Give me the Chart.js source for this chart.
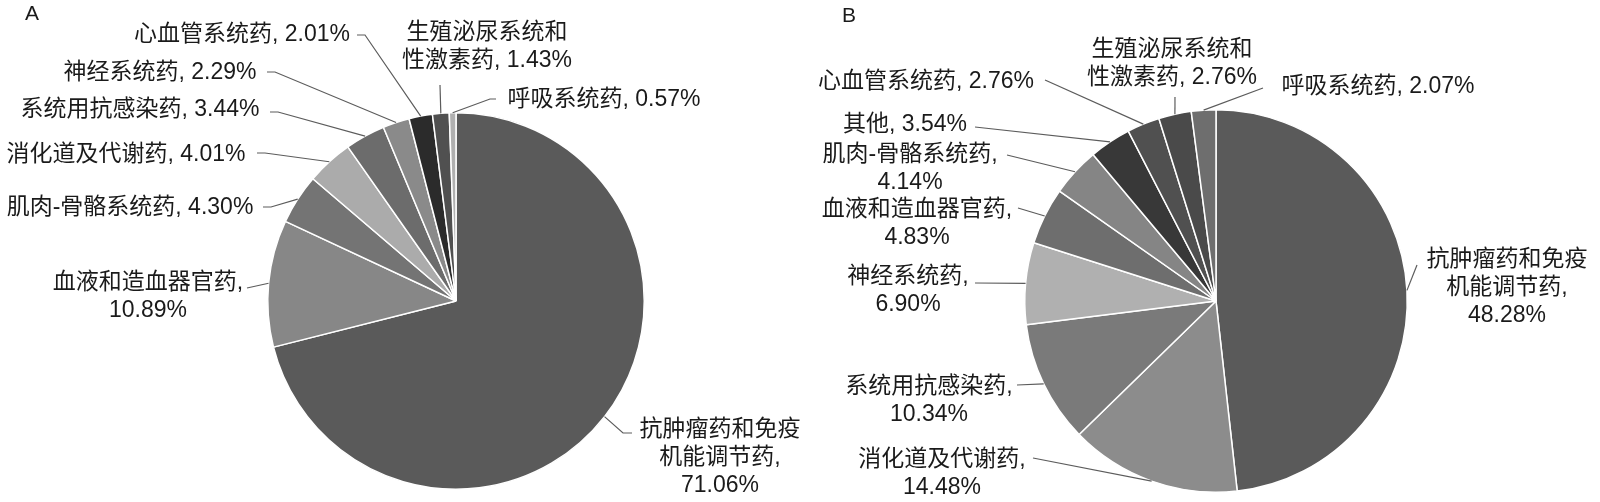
<!DOCTYPE html>
<html>
<head>
<meta charset="utf-8">
<script src="https://cdn.jsdelivr.net/npm/chart.js@4.4.1/dist/chart.umd.min.js"></script>
<style>
html,body{margin:0;padding:0;background:#fff;}
#wrap{position:relative;width:1600px;height:502px;overflow:hidden;}
.pane{position:absolute;top:0;width:800px;height:502px;}
.tag{position:absolute;font:21px "Liberation Sans","Noto Sans CJK SC",sans-serif;color:#1a1a1a;line-height:21px;}
</style>
</head>
<body>
<div id="wrap">
<div class="pane" style="left:0"><canvas id="pieA" width="800" height="502"></canvas></div>
<div class="pane" style="left:800px"><canvas id="pieB" width="800" height="502"></canvas></div>
<div class="tag" style="left:25px;top:2px">A</div>
<div class="tag" style="left:842px;top:4px">B</div>
</div>
<script>
// A 图：药品类别构成（%），从12点方向顺时针
const catsA = ["抗肿瘤药和免疫机能调节药","血液和造血器官药","肌肉-骨骼系统药","消化道及代谢药","系统用抗感染药","神经系统药","心血管系统药","生殖泌尿系统和性激素药","呼吸系统药"]
const valsA = [71.06,10.89,4.30,4.01,3.44,2.29,2.01,1.43,0.57]
const colorsA = ["#5a5a5a","#878787","#747474","#ababab","#6c6c6c","#8a8a8a","#2b2b2b","#505050","#b0b0b0"]

// B 图
const catsB = ["抗肿瘤药和免疫机能调节药","消化道及代谢药","系统用抗感染药","神经系统药","血液和造血器官药","肌肉-骨骼系统药","其他","心血管系统药","生殖泌尿系统和性激素药","呼吸系统药"]
const valsB = [48.28,14.48,10.34,6.90,4.83,4.14,3.54,2.76,2.76,2.07]
const colorsB = ["#5a5a5a","#8c8c8c","#7a7a7a","#b0b0b0","#6e6e6e","#858585","#383838","#505050","#4a4a4a","#6e6e6e"]

// 标签位置（相对饼心）：文字中心 dx,dy；引线起点 ax,ay；stub 横向短线；wrap 名称断行；own 百分比单独成行
const labelsA = [
{dx:264,dy:129,ax:176,ay:132,stub:9,wrap:[7],own:true},
{dx:-308,dy:-18,ax:-209,ay:-13,stub:0,wrap:[],own:true},
{dx:-326,dy:-93,ax:-193,ay:-94,stub:8,wrap:[],own:false},
{dx:-330,dy:-146,ax:-199,ay:-148,stub:8,wrap:[],own:false},
{dx:-316,dy:-191,ax:-186,ay:-189,stub:8,wrap:[],own:false},
{dx:-296,dy:-228,ax:-189,ay:-229,stub:8,wrap:[],own:false},
{dx:-214,dy:-266,ax:-99,ay:-266,stub:8,wrap:[],own:false},
{dx:31,dy:-268,ax:-16,ay:-216,stub:0,wrap:[7],own:false},
{dx:148,dy:-201,ax:40,ay:-202,stub:6,wrap:[],own:false}
]
const labelsB = [
{dx:291,dy:-41,ax:201,ay:-36,stub:0,wrap:[7],own:true},
{dx:-274,dy:159,ax:-183,ay:157,stub:0,wrap:[],own:true},
{dx:-287,dy:86,ax:-199,ay:84,stub:0,wrap:[],own:true},
{dx:-308,dy:-24,ax:-241,ay:-18,stub:0,wrap:[],own:true},
{dx:-299,dy:-91,ax:-198,ay:-93,stub:0,wrap:[],own:true},
{dx:-306,dy:-146,ax:-209,ay:-146,stub:0,wrap:[],own:true},
{dx:-311,dy:-176,ax:-241,ay:-174,stub:0,wrap:[],own:false},
{dx:-290,dy:-219,ax:-171,ay:-221,stub:0,wrap:[],own:false},
{dx:-44,dy:-251,ax:-41,ay:-204,stub:0,wrap:[7],own:false},
{dx:162,dy:-214,ax:47,ay:-213,stub:0,wrap:[],own:false}
]

function labelLines(name,val,lay){
let parts=[]
let prev=0
lay.wrap.forEach(i=>{parts.push(name.slice(prev,i));prev=i})
parts.push(name.slice(prev))
let pct=val.toFixed(2)+"%"
parts[parts.length-1]+=","
if(lay.own) parts.push(pct)
else parts[parts.length-1]+=" "+pct
return parts
}

const sliceLabels={
id:"sliceLabels",
afterDatasetsDraw(chart,args,opts){
const ctx=chart.ctx
const meta=chart.getDatasetMeta(0)
const data=chart.data.datasets[0].data
const names=chart.data.labels
ctx.save()
ctx.font='23px "Liberation Sans","Noto Sans CJK SC",sans-serif'
ctx.textAlign="center"
ctx.textBaseline="middle"
meta.data.forEach((arc,i)=>{
const lay=opts.layout[i]
const p=arc.getProps(["x","y","startAngle","endAngle","outerRadius"],true)
const mid=(p.startAngle+p.endAngle)/2
const ex=p.x+Math.cos(mid)*p.outerRadius
const ey=p.y+Math.sin(mid)*p.outerRadius
const sx=p.x+lay.ax
const sy=p.y+lay.ay
ctx.strokeStyle="#5c5c5c"
ctx.lineWidth=1.2
ctx.beginPath()
ctx.moveTo(sx,sy)
if(lay.stub){
const dir=ex>sx?1:-1
ctx.lineTo(sx+dir*lay.stub,sy)
}
ctx.lineTo(ex,ey)
ctx.stroke()
ctx.fillStyle="#1a1a1a"
labelLines(names[i],data[i],lay).forEach((t,k)=>{
ctx.fillText(t,p.x+lay.dx,p.y+lay.dy+k*28)
})
})
ctx.restore()
}
}

function makePie(id,cats,vals,colors,layout,pad){
return new Chart(document.getElementById(id),{
type:"pie",
data:{
labels:cats,
datasets:[{
data:vals,
backgroundColor:colors,
borderColor:"#ffffff",
borderWidth:1.5
}]
},
options:{
responsive:false,
animation:false,
layout:{padding:pad},
plugins:{
legend:{display:false},
tooltip:{enabled:false},
sliceLabels:{layout:layout}
}
},
plugins:[sliceLabels]
})
}

makePie("pieA",catsA,valsA,colorsA,labelsA,{left:267,right:155,top:112,bottom:12})
makePie("pieB",catsB,valsB,colorsB,labelsB,{left:224,right:192,top:109,bottom:9})
</script>
</body>
</html>
